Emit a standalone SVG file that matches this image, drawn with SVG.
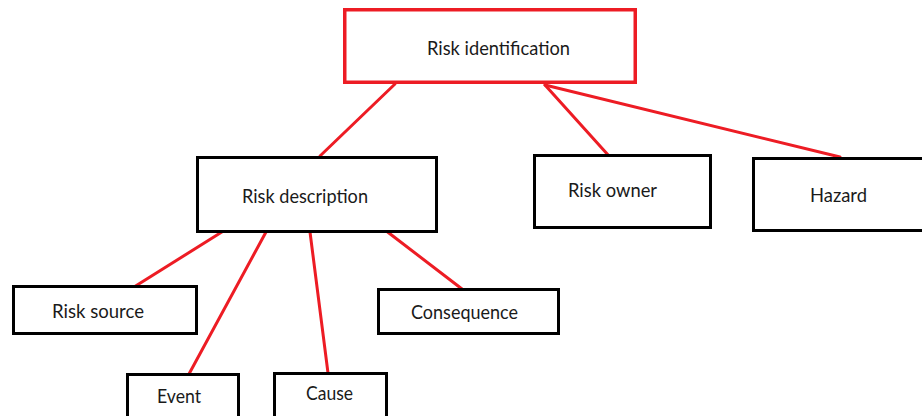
<svg xmlns="http://www.w3.org/2000/svg" width="922" height="416" viewBox="0 0 922 416">
  <style>
    .box { fill: #ffffff; stroke: #000000; stroke-width: 3; }
    .root { fill: #ffffff; stroke: #ed1c24; stroke-width: 3.5; }
    .label { font-family: Lato, "Liberation Sans", sans-serif; font-size: 19px; fill: #1a1a1a; }
    .link { stroke: #ed1c24; stroke-width: 3; stroke-linecap: round; fill: none; }
  </style>
  <rect width="922" height="416" fill="#ffffff"/>

  <g id="connectors">
    <line class="link" x1="395" y1="84" x2="320" y2="156"/>
    <line class="link" x1="545" y1="85" x2="609" y2="156"/>
    <line class="link" x1="545" y1="85" x2="840" y2="157"/>
    <line class="link" x1="225" y1="230" x2="134" y2="287"/>
    <line class="link" x1="266" y1="232" x2="189" y2="374"/>
    <line class="link" x1="310" y1="232" x2="328" y2="373"/>
    <line class="link" x1="385" y1="230" x2="462" y2="289"/>
  </g>

  <g id="risk-identification">
    <rect class="root" x="344.75" y="9.75" width="290.5" height="72.5"/>
    <text class="label" x="427" y="55" textLength="143" lengthAdjust="spacingAndGlyphs">Risk identification</text>
  </g>

  <g id="risk-description">
    <rect class="box" x="197.5" y="157.5" width="239" height="74"/>
    <text class="label" x="242" y="203" textLength="126" lengthAdjust="spacingAndGlyphs">Risk description</text>
  </g>

  <g id="risk-owner">
    <rect class="box" x="534.5" y="155.5" width="176" height="72"/>
    <text class="label" x="568" y="197" textLength="89" lengthAdjust="spacingAndGlyphs">Risk owner</text>
  </g>

  <g id="hazard">
    <rect class="box" x="753.5" y="158.5" width="200" height="72"/>
    <text class="label" x="810" y="202" textLength="57" lengthAdjust="spacingAndGlyphs">Hazard</text>
  </g>

  <g id="risk-source">
    <rect class="box" x="13.5" y="286.5" width="183" height="47"/>
    <text class="label" x="52" y="318" textLength="92" lengthAdjust="spacingAndGlyphs">Risk source</text>
  </g>

  <g id="consequence">
    <rect class="box" x="378.5" y="289.5" width="180" height="44"/>
    <text class="label" x="411" y="319" textLength="107" lengthAdjust="spacingAndGlyphs">Consequence</text>
  </g>

  <g id="event">
    <rect class="box" x="127.5" y="374.5" width="111" height="60"/>
    <text class="label" x="157" y="403" textLength="44" lengthAdjust="spacingAndGlyphs">Event</text>
  </g>

  <g id="cause">
    <rect class="box" x="274.5" y="373.5" width="112" height="60"/>
    <text class="label" x="306" y="400" textLength="47" lengthAdjust="spacingAndGlyphs">Cause</text>
  </g>
</svg>
